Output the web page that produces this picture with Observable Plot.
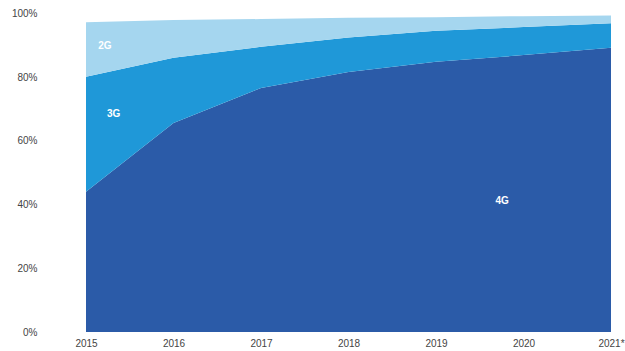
<!DOCTYPE html>
<html>
<head>
<meta charset="utf-8">
<script src="https://cdn.jsdelivr.net/npm/d3@7"></script>
<script src="https://cdn.jsdelivr.net/npm/@observablehq/plot@0.6"></script>
<style>
  html, body { margin: 0; padding: 0; background: #fff; }
  #chart svg { display: block; font-family: "Liberation Sans", Arial, sans-serif; }
</style>
</head>
<body>
<div id="chart"></div>
<script>
// Share of mobile connections by network generation (%)
const years = [2015, 2016, 2017, 2018, 2019, 2020, 2021];
const yearLabels = ["2015", "2016", "2017", "2018", "2019", "2020", "2021*"];
const share4G = [44.0, 65.5, 76.5, 81.5, 84.7, 86.8, 89.1];
const share3G = [36.0, 20.5, 12.9, 10.8, 9.7, 8.8, 7.7];
const share2G = [17.1, 11.8, 8.7, 6.2, 4.3, 3.4, 2.4];
const techs = ["4G", "3G", "2G"];
const techColors = ["#2b5ba8", "#1f98d8", "#a5d6ef"];
const yTicks = [0, 20, 40, 60, 80, 100];

// Long table, 4G first so it sits at the bottom of the stack
const seriesValues = [share4G, share3G, share2G];
const rows = [];
techs.forEach((t, i) => {
  years.forEach((yr, j) => rows.push({ tech: t, year: yr, share: seriesValues[i][j] }));
});

const labelOf = new Map(years.map((y, i) => [y, yearLabels[i]]));

const chart = Plot.plot({
  width: 625,
  height: 351,
  marginLeft: 86,
  marginRight: 14,
  marginTop: 13,
  marginBottom: 19,
  style: { fontSize: "10px", fontFamily: "Liberation Sans, Arial, sans-serif", color: "#444" },
  x: { domain: [2015, 2021], ticks: years, tickFormat: d => labelOf.get(d), tickSize: 0, tickPadding: 7, label: null },
  y: { domain: [0, 100], ticks: yTicks, tickFormat: d => d + "%", tickSize: 0, tickPadding: 49, label: null },
  color: { domain: techs, range: techColors },
  marks: [
    Plot.areaY(rows, { x: "year", y: "share", fill: "tech", z: "tech" }),
    Plot.text(["2G"], { x: 2015.21, y: 90, text: d => d, fill: "white", fontWeight: "bold", fontSize: 10 }),
    Plot.text(["3G"], { x: 2015.31, y: 68.7, text: d => d, fill: "white", fontWeight: "bold", fontSize: 10 }),
    Plot.text(["4G"], { x: 2019.75, y: 41.2, text: d => d, fill: "white", fontWeight: "bold", fontSize: 10 })
  ]
});

document.getElementById("chart").appendChild(chart);
</script>
</body>
</html>
